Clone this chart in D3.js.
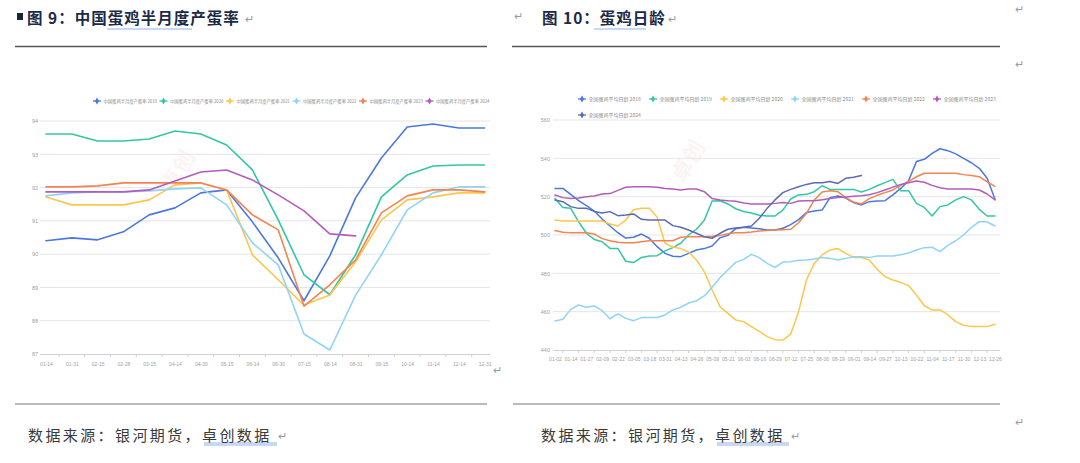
<!DOCTYPE html>
<html><head><meta charset="utf-8">
<script src="https://cdn.jsdelivr.net/npm/d3@7"></script>
<style>body{margin:0;background:#fff}svg{display:block}</style>
</head><body><svg id="c" width="1080" height="463"></svg>
<script>
// ---------- DATA: left chart (egg-laying rate, %) ----------
const leftCats = ["01-14","01-31","02-15","02-28","03-15","04-14","04-30","05-15","06-14","06-30","07-15","08-14","08-31","09-15","10-14","11-14","12-14","12-31"];
const leftYears = ["2019","2020","2021","2022","2023","2024"];
const rate2019 = [90.40,90.49,90.43,90.67,91.18,91.39,91.84,91.93,90.97,89.89,88.60,89.95,91.69,92.89,93.82,93.91,93.79,93.79];
const rate2020 = [93.61,93.61,93.40,93.40,93.46,93.70,93.61,93.28,92.53,91.03,89.38,88.78,89.98,91.72,92.38,92.65,92.68,92.68];
const rate2021 = [91.72,91.48,91.48,91.48,91.63,92.08,92.14,91.93,89.98,89.23,88.47,88.77,89.77,91.03,91.63,91.72,91.84,91.84];
const rate2022 = [91.75,91.84,91.87,91.87,91.90,91.96,91.99,91.48,90.34,89.68,87.60,87.12,88.77,89.98,91.33,91.84,92.02,92.02];
const rate2023 = [92.02,92.02,92.05,92.14,92.14,92.14,92.14,91.93,91.18,90.73,88.44,89.08,89.83,91.24,91.75,91.93,91.93,91.87];
const rate2024 = [91.87,91.87,91.87,91.87,91.93,92.20,92.47,92.53,92.23,91.78,91.30,90.61,90.55];
const leftTicks = [87,88,89,90,91,92,93,94];
const leftColors = ["#4a78e2","#33c6a6","#fbc64c","#8fd4f7","#f6834f","#b45cba"];

// ---------- DATA: right chart (hen age, days) ----------
const rightLabels = ["01-02","01-14","01-27","02-09","02-22","03-05","03-18","03-31","04-13","04-26","05-09","05-21","06-03","06-16","06-29","07-12","07-25","08-06","08-19","09-01","09-14","09-27","10-13","10-22","11-04","11-17","11-30","12-13","12-26"];
const rightYears = ["2018","2019","2020","2021","2022","2023","2024"];
const age2018 = [524.3,524.3,521.2,517.9,515.3,512.5,508.3,504.7,501.2,498.4,498.8,500.5,498.3,493.9,490.4,488.9,488.7,490.4,492.2,492.9,494.3,498.6,499.8,503.3,504.0,503.7,503.3,502.6,502.6,503.5,505.4,508.0,511.7,512.5,513.0,519.5,520.3,519.3,516.9,515.7,517.4,517.7,517.9,520.9,524.3,528.3,538.3,539.5,542.6,545.0,544.0,542.3,540.0,537.7,534.8,529.6,518.6];
const age2019 = [519.1,514.3,513.9,507.0,500.9,497.7,496.5,493.0,493.0,486.3,485.6,488.3,489.0,489.2,491.7,493.4,495.7,500.0,503.0,507.7,517.7,517.9,516.2,513.7,512.3,511.5,510.3,509.9,509.9,513.0,518.8,520.9,521.2,522.6,525.7,523.8,523.8,523.8,523.8,522.4,523.8,525.7,527.3,529.0,523.1,523.1,516.5,514.4,509.9,514.8,515.7,518.3,520.0,518.3,513.4,509.9,509.9];
const age2020 = [507.8,507.3,507.3,507.3,507.3,507.3,507.3,505.7,504.7,507.8,513.2,513.9,513.9,509.2,495.7,493.7,492.9,491.1,487.0,480.9,471.3,462.6,459.1,455.7,454.8,452.2,449.7,447.0,445.4,445.2,448.3,460.0,476.5,485.2,489.6,492.2,492.9,490.4,488.3,488.2,487.0,482.1,478.3,476.5,475.3,473.6,468.7,463.1,460.9,460.9,458.4,454.8,452.9,452.2,452.2,452.2,453.4];
const age2021 = [455.1,456.0,461.2,463.5,462.3,463.0,460.5,456.3,458.8,456.5,455.3,456.9,456.9,457.0,458.3,460.9,462.3,464.5,465.7,468.2,472.7,477.7,481.7,485.7,487.3,489.9,488.2,485.2,483.1,485.9,486.1,486.8,487.0,487.5,488.3,487.8,487.0,487.8,488.7,488.7,488.2,489.0,489.0,489.0,489.7,490.6,492.2,493.4,493.6,491.3,494.6,497.0,500.0,504.0,507.0,506.8,504.7];
const age2022 = [502.3,501.4,501.2,501.2,501.2,500.5,498.1,497.0,496.2,496.0,496.0,496.5,497.0,497.0,497.0,497.0,498.8,499.1,499.1,499.1,499.3,499.8,500.7,501.2,501.2,501.6,502.1,502.3,502.6,502.8,503.0,506.4,511.3,518.3,522.4,523.1,522.6,519.5,517.2,516.2,519.0,520.7,522.1,523.5,525.9,528.0,530.4,532.2,532.2,532.2,532.2,532.2,531.5,531.1,530.4,527.7,525.4];
const age2023 = [520.9,519.5,519.1,519.3,520.0,520.3,521.4,521.6,523.3,524.9,525.2,525.2,525.2,524.9,524.3,524.0,523.5,524.0,524.0,522.6,519.0,518.3,517.9,517.6,516.7,516.2,516.2,516.2,516.5,517.0,516.5,517.7,517.9,517.9,518.4,519.0,519.5,519.8,520.2,520.5,521.0,522.1,523.5,525.0,526.4,527.3,528.2,527.5,525.9,524.7,524.0,524.0,524.0,524.0,523.5,521.4,518.3];
const age2024 = [518.3,517.4,514.8,513.9,513.9,512.3,511.5,512.2,510.1,510.4,511.0,508.2,507.8,507.8,507.8,504.9,504.0,502.6,500.9,499.1,498.3,500.9,503.0,503.7,504.0,504.7,508.7,513.9,518.3,522.1,523.8,525.2,526.4,527.3,527.3,527.9,526.9,529.6,530.1,531.0];
const rightTicks = [440,460,480,500,520,540,560];
const rightColors = ["#4a78e2","#33c6a6","#fbc64c","#8fd4f7","#f6834f","#b45cba","#5b6bb3"];

const svg = d3.select("#c");
svg.append("rect").attr("width",1080).attr("height",463).attr("fill","#fff");
const CJK = "'Noto Sans CJK SC','Noto Sans',sans-serif";
const NUM = "'Liberation Sans Narrow','Liberation Sans',Arial,sans-serif";

// ---------- document chrome ----------
svg.append("rect").attr("x",17).attr("y",13).attr("width",6).attr("height",7).attr("fill","#1b2538");
function title(x,y,t){
  return svg.append("text").attr("x",x).attr("y",y).attr("font-family",CJK).attr("font-weight","bold")
   .attr("font-size",15.5).attr("letter-spacing",1).attr("fill","#1b2a45").text(t);
}
title(27,24,"图 9：中国蛋鸡半月度产蛋率");
title(542,24,"图 10：蛋鸡日龄");
function mark(x,y,s){svg.append("text").attr("x",x).attr("y",y).attr("font-family",CJK).attr("font-size",s||11).attr("fill","#9a9a9a").text("↵");}
mark(245,23); mark(514,20); mark(668,23); mark(1015,13); mark(1015,68); mark(493,374); mark(1015,426);
// spell underlines
[[107,192,29],[594,646,29],[204,277,443],[717,789,443]].forEach(([a,b,y])=>{
  svg.append("line").attr("x1",a).attr("x2",b).attr("y1",y).attr("y2",y).attr("stroke","#8fb0ea").attr("stroke-width",1.2);
  if(y>400) svg.append("line").attr("x1",a).attr("x2",b).attr("y1",y+2).attr("y2",y+2).attr("stroke","#8fb0ea").attr("stroke-width",1);
});
// rules
[[15,487,46.5],[512,1000,46.5],[15,487,404],[513,1000,404]].forEach(([a,b,y])=>{
  svg.append("line").attr("x1",a).attr("x2",b).attr("y1",y).attr("y2",y).attr("stroke",y<100?"#555":"#777").attr("stroke-width",y<100?1.6:1.2);
});
function foot(x){
  svg.append("text").attr("x",x).attr("y",441).attr("font-family",CJK).attr("font-size",15).attr("letter-spacing",2.4).attr("fill","#3a3a3a").text("数据来源：银河期货，卓创数据");
}
foot(28); foot(541); mark(278,440); mark(791,440);

// watermarks
[[185,175],[695,165]].forEach(([x,y])=>{
  svg.append("text").attr("x",x).attr("y",y).attr("transform",`rotate(-60,${x},${y})`).attr("text-anchor","middle")
   .attr("font-family",CJK).attr("font-size",22).attr("font-weight","bold").attr("fill","#e07070").attr("opacity",0.07).text("卓创");
});

function legendItem(g,x,y,color,label,fs){
  g.append("line").attr("x1",x-4).attr("x2",x+4).attr("y1",y).attr("y2",y).attr("stroke",color).attr("stroke-width",1.3);
  g.append("path").attr("d",d3.symbol(d3.symbolDiamond,14)()).attr("transform",`translate(${x},${y})`).attr("fill",color);
  g.append("text").attr("x",x+6.5).attr("y",y+1.6).attr("font-family",CJK).attr("font-size",fs).attr("fill","#8a8a8a").text(label);
}

// ---------- LEFT CHART ----------
(function(){
  const g = svg.append("g");
  const x = d3.scalePoint().domain(leftCats).range([46,484.6]);
  const y = d3.scaleLinear().domain([87,94]).range([354,121]);
  g.selectAll(".grid").data(leftTicks.slice(1)).join("line")
    .attr("x1",40).attr("x2",490).attr("y1",d=>y(d)).attr("y2",d=>y(d)).attr("stroke","#e5e5e5").attr("stroke-width",1);
  const ya = g.append("g").attr("transform","translate(38,0)").call(d3.axisLeft(y).tickValues(leftTicks).tickFormat(d3.format("d")).tickSize(0).tickPadding(0));
  ya.select(".domain").remove();
  ya.selectAll("text").attr("font-family",NUM).attr("font-size",5.5).attr("fill","#a0a0a0");
  const xa = g.append("g").attr("transform","translate(0,354)").call(d3.axisBottom(x).tickSize(0).tickPadding(8));
  xa.select(".domain").attr("d","M40,0.5H490").attr("stroke","#d0d0d0");
  xa.selectAll("text").attr("font-family",NUM).attr("font-size",5).attr("fill","#a0a0a0");
  const step = x.step();
  g.selectAll(".tk").data(leftCats.slice(0,-1)).join("line")
    .attr("x1",d=>x(d)+step/2).attr("x2",d=>x(d)+step/2).attr("y1",354).attr("y2",357).attr("stroke","#d0d0d0");
  const series = [rate2019,rate2020,rate2021,rate2022,rate2023,rate2024];
  const line = d3.line().x((d,i)=>x(leftCats[i])).y(d=>y(d));
  series.forEach((s,k)=>{
    g.append("path").datum(s).attr("d",line).attr("fill","none").attr("stroke",leftColors[k])
      .attr("stroke-width",1.6).attr("stroke-linejoin","round").attr("stroke-linecap","round");
  });
  const lg = svg.append("g");
  leftYears.forEach((yr,k)=>legendItem(lg,97+k*66.5,101,leftColors[k],"中国蛋鸡半月度产蛋率 "+yr,4.3));
})();

// ---------- RIGHT CHART ----------
(function(){
  const g = svg.append("g");
  const x = d3.scaleLinear().domain([0,56]).range([555,995]);
  const y = d3.scaleLinear().domain([440,560]).range([350,120]);
  g.selectAll(".grid").data(rightTicks.slice(1)).join("line")
    .attr("x1",553).attr("x2",1000).attr("y1",d=>y(d)).attr("y2",d=>y(d)).attr("stroke","#e5e5e5").attr("stroke-width",1);
  const ya = g.append("g").attr("transform","translate(550,0)").call(d3.axisLeft(y).tickValues(rightTicks).tickFormat(d3.format("d")).tickSize(0).tickPadding(0));
  ya.select(".domain").remove();
  ya.selectAll("text").attr("font-family",NUM).attr("font-size",5.5).attr("fill","#a0a0a0");
  const xa = g.append("g").attr("transform","translate(0,350)")
    .call(d3.axisBottom(x).tickValues(d3.range(0,57,2)).tickFormat(i=>rightLabels[i/2]).tickSize(0).tickPadding(7));
  xa.select(".domain").attr("d","M553,0.5H1000").attr("stroke","#d0d0d0");
  xa.selectAll("text").attr("font-family",NUM).attr("font-size",5).attr("fill","#a0a0a0");
  g.selectAll(".tk").data(d3.range(1,57,2)).join("line")
    .attr("x1",d=>x(d)).attr("x2",d=>x(d)).attr("y1",350).attr("y2",353).attr("stroke","#d0d0d0");
  const series = [age2018,age2019,age2020,age2021,age2022,age2023,age2024];
  const line = d3.line().x((d,i)=>x(i)).y(d=>y(d));
  series.forEach((s,k)=>{
    g.append("path").datum(s).attr("d",line).attr("fill","none").attr("stroke",rightColors[k])
      .attr("stroke-width",1.5).attr("stroke-linejoin","round").attr("stroke-linecap","round");
  });
  const lg = svg.append("g");
  rightYears.forEach((yr,k)=>{
    const row = k<6?0:1, col = k<6?k:0;
    legendItem(lg,582+col*71,99+row*16,rightColors[k],"全国蛋鸡平均日龄 "+yr,5);
  });
})();
</script></body></html>
